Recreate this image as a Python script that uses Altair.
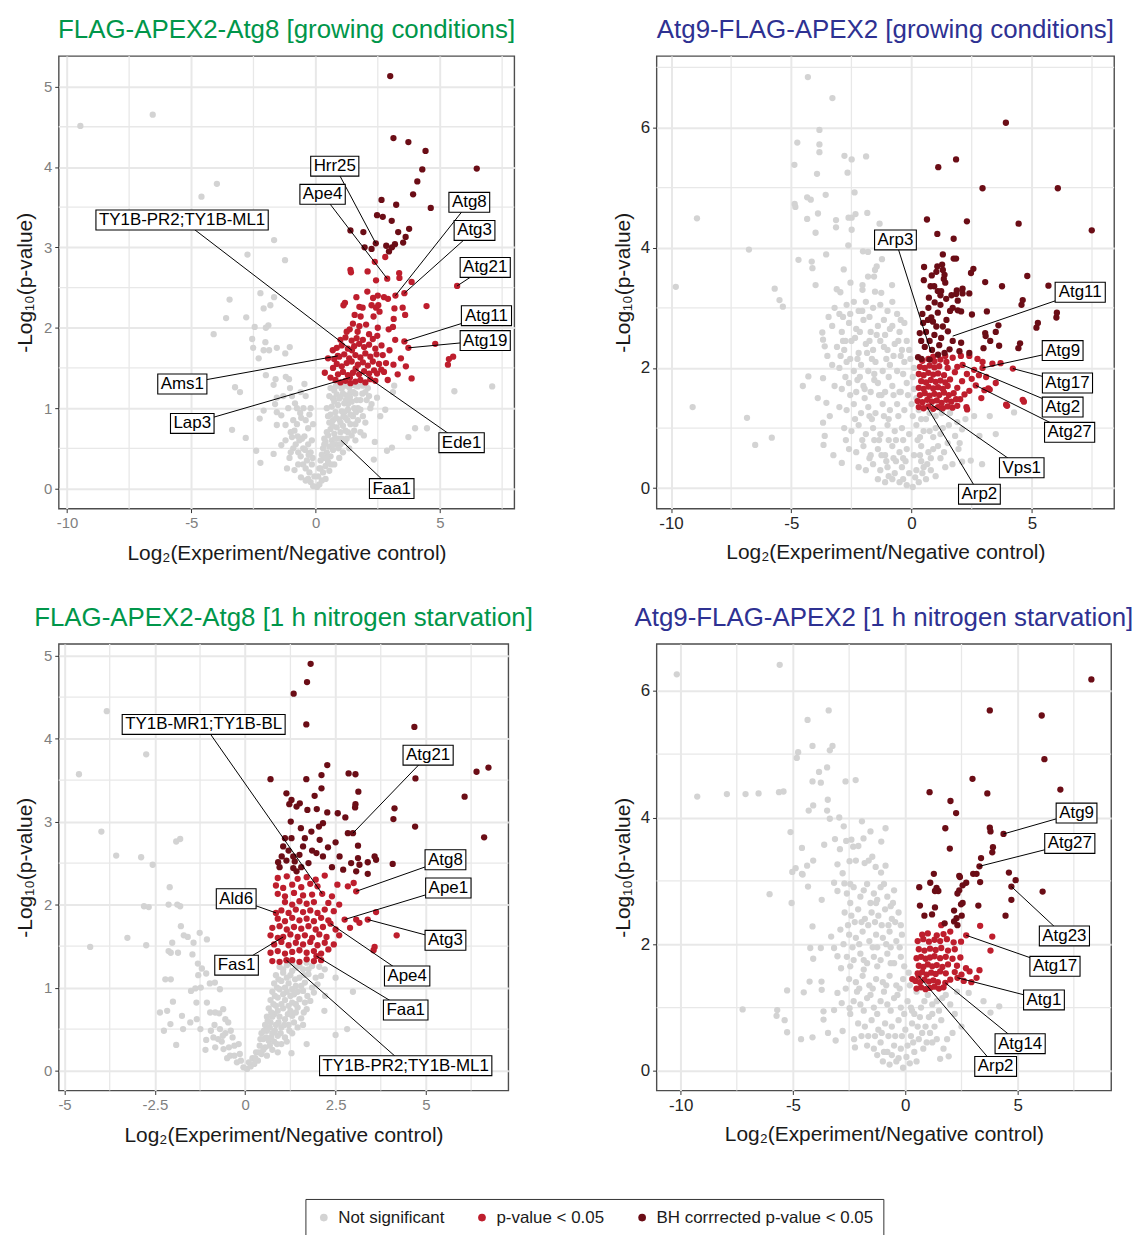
import altair as alt
import pandas as pd

FONT = "Liberation Sans"
CATS = ["Not significant", "p-value < 0.05", "BH corrrected p-value < 0.05"]
COLORS = ["#D3D3D3", "#BE1E2D", "#6B0D16"]
GRID = "#E8E8E8"
XTITLE = "Log\u2082(Experiment/Negative control)"
YTITLE = "-Log\u2081\u2080(p-value)"
GREEN = "#00964A"
BLUE = "#2E3192"

# ---------------- Panel 1: FLAG-APEX2-Atg8 [growing conditions] ----------------
TL_GREY = [(-9.46,4.51),(-6.55,4.65),(-3.97,3.79),(-4.59,3.63),(-2.74,2.91),(-1.23,2.84),(-1.67,3.09),(-2.22,2.43),
 (-1.67,2.38),(-3.46,2.35),(-3.60,2.12),(-2.79,2.13),(-2.09,2.24),(-1.82,2.28),(-4.10,1.92),(-2.45,2.01),(-2.00,2.00),
 (-1.90,2.03),(-2.55,1.86),(-2.02,1.82),(-2.51,1.75),(-2.09,1.72),(-1.87,1.72),(-1.56,1.75),(-1.04,1.76),(-1.22,1.68),
 (-2.29,1.62),(-2.00,1.41),(-1.61,1.36),(-1.69,1.29),(-1.20,1.39),(-1.07,1.36),(-1.03,1.25),(-1.56,1.13),(-1.63,1.05),
 (-2.25,0.87),(-2.09,0.97),(-1.56,0.95),(-1.38,0.91),(-1.21,0.79),(-1.56,0.79),(-2.81,0.63),(-3.36,0.73),(-3.24,1.26),
 (-3.04,1.20),(-2.39,0.47),(-2.22,0.32),(-1.69,0.43),(-1.38,0.54),(-1.05,0.38),(-0.85,0.23),(-0.59,0.14),(-0.40,0.10),
 (-1.21,0.60),(-0.95,0.64),(-0.75,0.80),(-0.62,0.94),(-0.49,1.00),(-0.83,1.06),
 (2.47,1.13),(2.80,0.98),(3.11,1.20),(3.16,1.28),(2.34,0.36),(2.87,0.47),(3.07,0.51),(2.38,0.58),(1.94,0.66),(2.00,0.82),
 (5.58,1.21),(7.10,1.27),(4.00,0.75),(4.48,0.75),(3.73,0.64),(2.60,0.90),(2.25,1.05),
 (-0.10,0.03),(-0.20,0.08),(-0.30,0.12),(-0.25,0.20),(-0.40,0.25),(-0.50,0.30),(-0.35,0.35),(-0.60,0.40),(-0.70,0.45),
 (-0.50,0.50),(-0.80,0.55),(-0.65,0.60),(-0.90,0.50),(-1.00,0.70),(-0.45,0.65),(-0.30,0.55),(-0.20,0.45),(-0.15,0.30),
 (-0.70,0.30),(-0.90,0.85),(-1.10,1.00),(-0.40,0.85),(-0.30,0.75),(-1.30,1.15),(-0.60,1.20),(-0.40,1.15),(-0.20,1.00),
 (-0.10,0.80),(-0.15,0.60),(-1.00,0.45),(-1.15,0.25),
 (0.05,0.02),(0.15,0.05),(0.25,0.10),(0.10,0.15),(0.30,0.20),(0.20,0.25),(0.40,0.28),(0.50,0.33),(0.35,0.38),(0.60,0.40),
 (0.45,0.45),(0.70,0.48),(0.55,0.52),(0.80,0.55),(0.40,0.58),(0.65,0.60),(0.90,0.62),(0.50,0.66),(0.75,0.68),(1.00,0.70),
 (1.20,0.72),(0.60,0.74),(0.85,0.76),(1.10,0.78),(1.40,0.80),(0.55,0.82),(0.70,0.85),(0.95,0.86),(1.20,0.88),(1.50,0.90),
 (0.60,0.92),(0.80,0.95),(1.05,0.96),(1.30,0.98),(1.70,1.00),(0.65,1.02),(0.90,1.04),(1.15,1.06),(1.45,1.08),(1.80,1.10),
 (0.70,1.12),(1.00,1.14),(1.25,1.16),(1.60,1.18),(2.00,1.20),(0.75,1.22),(1.05,1.24),(1.35,1.26),(1.70,1.27),(0.90,1.28),
 (1.50,1.29),(2.10,1.25),(0.30,0.50),(0.20,0.35),(1.60,0.60),(1.35,0.50),(1.10,0.45),(0.95,0.38),(0.75,0.30),(0.55,0.22),
 (0.40,0.12),(1.80,0.70),(1.60,0.80),(1.90,0.90),(2.20,1.00),(0.45,0.70),(0.35,0.62),(0.50,0.90),(0.45,1.00),(0.55,1.15),
 (0.60,1.25),(1.00,0.55),(1.25,0.62),(0.85,1.17),(1.15,0.95),(1.40,1.20),(1.90,1.28),(1.30,1.05),(1.55,1.00),(2.05,1.10),
 (0.15,0.25),(0.25,0.42),(0.35,0.55),(0.45,0.38),(0.62,0.30),(0.68,0.55),(0.78,0.62),(0.92,0.50),(1.05,0.62),(1.18,0.58),
 (1.30,0.70),(1.45,0.66),(1.55,0.72),(1.70,0.85),(0.68,0.78),(0.82,0.88),(1.00,0.82),(1.12,0.90),(1.28,0.85),(1.40,0.92),
 (1.62,0.95),(1.80,0.98),(0.75,1.08),(0.95,1.12),(1.10,1.18),(1.22,1.10),(1.38,1.14),(1.52,1.20),(1.65,1.10),(1.88,1.18),
 (2.15,1.15),(0.82,1.28),(1.18,1.28),(1.62,1.28),(2.00,1.30),(-0.05,0.15),(-0.12,0.38),(-0.28,0.42),(-0.42,0.48),
 (-0.55,0.62),(-0.72,0.65),(-0.85,0.72),(-0.58,0.88),(-0.75,1.00),(-0.25,0.92),(-0.95,1.15),(-0.45,1.30)]
TL_RED = [(2.80,2.88),(2.38,2.82),(1.40,2.72),(1.42,2.69),(2.09,2.70),(3.36,2.68),(2.88,2.61),(2.43,2.59),(3.37,2.62),
 (3.86,2.57),(5.69,2.52),(2.08,2.45),(3.21,2.40),(3.57,2.43),(1.64,2.38),(2.31,2.37),(2.50,2.40),(2.75,2.38),(1.18,2.31),
 (1.12,2.28),(1.76,2.26),(1.89,2.25),(2.43,2.25),(2.52,2.28),(2.91,2.36),(3.17,2.24),(3.50,2.25),(1.57,2.16),(1.81,2.14),
 (2.33,2.14),(2.57,2.20),(3.14,2.11),(3.60,2.16),(4.46,2.27),(1.76,2.02),(2.03,2.04),(1.37,1.98),(2.50,2.00),(2.94,1.98),
 (3.11,2.01),(1.69,1.95),(2.15,1.92),(2.48,1.90),(3.20,1.85),(2.97,1.72),(3.43,1.62),(3.13,1.54),(2.83,1.56),(2.64,1.48),
 (2.47,1.43),(3.63,1.52),(0.69,1.72),(0.75,1.61),(3.57,1.83),(3.73,1.75),(4.81,1.80),(5.53,1.64),(5.36,1.61),(5.32,1.54),
 (3.86,1.37),(0.37,1.44),(0.89,1.65),(1.38,1.38),(1.61,1.49),(1.46,1.72),
 (0.80,1.35),(1.00,1.32),(1.20,1.34),(1.40,1.31),(1.60,1.33),(1.80,1.35),(2.00,1.32),(2.20,1.36),(2.40,1.34),
 (0.90,1.42),(1.10,1.45),(1.30,1.41),(1.50,1.44),(1.75,1.42),(1.95,1.46),(2.15,1.43),(2.35,1.47),(0.70,1.50),
 (0.85,1.55),(1.05,1.52),(1.25,1.56),(1.45,1.58),(1.70,1.54),(1.90,1.57),(2.10,1.53),(2.30,1.58),(2.55,1.55),
 (0.95,1.64),(1.15,1.67),(1.35,1.62),(1.60,1.66),(1.80,1.63),(2.00,1.68),(2.20,1.64),(2.45,1.67),
 (0.85,1.75),(1.05,1.78),(1.30,1.74),(1.55,1.77),(1.75,1.80),(1.95,1.76),(2.15,1.79),(2.40,1.74),(2.65,1.78),
 (1.00,1.85),(1.20,1.88),(1.45,1.84),(1.65,1.87),(1.90,1.85),(2.30,1.86),(2.70,1.66),(2.75,1.45),(0.60,1.38),
 (0.50,1.62),(2.90,1.35),(3.30,1.42),(1.25,1.95),(1.50,2.05),(2.25,2.28)]
TL_DARK = [(3.00,5.13),(3.13,4.36),(3.73,4.31),(4.42,4.20),(4.29,3.97),(6.48,3.98),(4.09,3.82),(3.92,3.66),(2.65,3.59),
 (3.24,3.53),(4.63,3.49),(2.47,3.40),(2.70,3.38),(3.06,3.33),(1.40,3.21),(1.92,3.19),(3.32,3.19),(3.76,3.23),(3.62,3.13),
 (2.42,3.05),(2.84,3.02),(3.19,3.04),(3.52,3.06),(1.97,3.00),(2.25,2.98),(2.95,2.95),(3.07,3.00)]
TL_LABELS = [("Hrr25", 0.77, 4.01, 2.42, 3.05), ("Ape4", 0.28, 3.66, 2.88, 2.61),
 ("TY1B-PR2;TY1B-ML1", -5.37, 3.34, 1.46, 1.72), ("Atg8", 6.18, 3.56, 3.21, 2.40),
 ("Atg3", 6.39, 3.21, 3.57, 2.43), ("Atg21", 6.82, 2.75, 5.69, 2.52), ("Atg11", 6.87, 2.15, 3.57, 1.83),
 ("Atg19", 6.82, 1.84, 3.73, 1.75), ("Ams1", -5.36, 1.30, 0.89, 1.65), ("Lap3", -4.96, 0.81, 1.38, 1.38),
 ("Ede1", 5.87, 0.57, 1.61, 1.49), ("Faa1", 3.06, 0.00, 1.02, 0.60)]

# ---------------- Panel 2: Atg9-FLAG-APEX2 [growing conditions] ----------------
TR_GREY = [(-4.31,6.84),(-3.29,6.49),(-3.83,5.96),(-4.75,5.75),(-3.83,5.72),(-3.83,5.59),(-2.79,5.53),(-2.49,5.47),
 (-1.89,5.52),(-4.87,5.38),(-2.66,5.25),(-3.93,5.23),(-2.37,4.92),(-3.57,4.88),(-4.34,4.84),(-4.19,4.80),(-4.86,4.73),
 (-4.83,4.68),(-3.89,4.57),(-4.34,4.48),(-3.14,4.46),(-3.14,4.34),(-2.62,4.50),(-2.49,4.50),(-2.33,4.56),(-1.84,4.58),
 (-3.99,4.25),(-2.49,4.30),(-1.33,4.40),(-8.92,4.49),(-6.76,3.97),(-2.63,4.04),(-3.55,3.89),(-4.70,3.80),(-4.15,3.77),
 (-4.12,3.66),(-2.82,3.64),(-2.02,3.94),(-1.81,3.93),(-1.23,3.81),(-1.52,3.63),(-1.45,3.69),(-1.81,3.52),(-1.56,3.52),
 (-2.54,3.42),(-0.81,3.38),(-3.99,3.38),(-2.04,3.38),(-2.04,3.30),(-3.11,3.31),(-2.96,3.26),(-1.26,3.25),(-1.52,3.27),
 (-9.80,3.35),(-5.69,3.32),(-5.49,3.13),(-5.35,3.02),(-9.10,1.35),(-6.84,1.17),(-6.50,0.72),(-5.81,0.84),
 (-3.71,2.59),(-3.68,2.47),(-3.61,2.36),(-4.29,1.86),(-4.52,1.70),(-3.68,1.83),(-3.54,1.42),(-3.68,1.09),(-3.61,0.87),
 (-3.66,0.72),(-3.50,2.20),(-3.90,1.50),(-3.40,1.20),(-3.25,0.55),(-2.90,0.42),(-2.73,0.80),
 (-3.20,3.00),(-3.00,2.90),(-2.70,3.05),(-2.40,3.10),(-2.20,2.95),(-1.90,3.10),(-1.60,3.00),(-1.30,3.05),(-1.00,2.95),
 (-0.80,3.10),(-0.60,2.90),(-3.30,2.70),(-2.90,2.60),(-2.60,2.75),(-2.30,2.65),(-2.00,2.80),(-1.70,2.60),(-1.40,2.70),
 (-1.10,2.55),(-0.80,2.70),(-0.50,2.60),(-0.30,2.75),(-3.10,2.35),(-2.80,2.30),(-2.50,2.45),(-2.20,2.25),(-1.90,2.40),
 (-1.60,2.30),(-1.30,2.45),(-1.00,2.30),(-0.70,2.40),(-0.40,2.30),(-0.20,2.45),(-3.30,2.05),(-3.00,2.00),(-2.70,2.10),
 (-2.40,1.95),(-2.10,2.05),(-1.80,1.95),(-1.50,2.10),(-1.20,1.95),(-0.90,2.05),(-0.60,1.95),(-0.30,2.10),(0.10,2.00),
 (-3.20,1.70),(-2.90,1.65),(-2.60,1.75),(-2.30,1.60),(-2.00,1.70),(-1.70,1.60),(-1.40,1.75),(-1.10,1.60),(-0.80,1.70),
 (-0.50,1.60),(-0.20,1.75),(0.10,1.65),(-3.00,1.35),(-2.70,1.30),(-2.40,1.40),(-2.10,1.25),(-1.80,1.35),(-1.50,1.25),
 (-1.20,1.40),(-0.90,1.30),(-0.60,1.40),(-0.30,1.30),(0.00,1.40),(0.30,1.30),(-2.80,1.00),(-2.50,0.95),(-2.20,1.05),
 (-1.90,0.90),(-1.60,1.00),(-1.30,0.90),(-1.00,1.05),(-0.70,0.95),(-0.40,1.00),(-0.10,0.90),(0.20,1.05),(0.50,0.95),
 (-2.60,0.65),(-2.30,0.60),(-2.00,0.70),(-1.70,0.55),(-1.40,0.65),(-1.10,0.55),(-0.80,0.70),(-0.50,0.60),(-0.20,0.65),
 (0.10,0.55),(0.40,0.70),(0.70,0.60),(-2.20,0.35),(-1.90,0.30),(-1.60,0.40),(-1.30,0.30),(-1.00,0.35),(-0.70,0.25),
 (-0.40,0.35),(-0.10,0.25),(0.20,0.30),(0.50,0.35),(0.80,0.30),(-1.40,0.15),(-1.10,0.10),(-0.80,0.15),(-0.50,0.10),
 (-0.20,0.05),(0.05,0.02),(0.30,0.10),(0.60,0.15),(1.00,0.20),
 (-3.45,2.85),(-2.85,2.45),(-2.55,2.15),(-2.25,1.80),(-1.95,1.50),(-1.65,1.15),(-1.35,0.80),(-1.05,0.45),(-0.75,0.50),
 (-2.15,2.60),(-1.85,2.25),(-1.55,1.90),(-1.25,1.55),(-0.95,1.15),(-0.65,0.80),(-0.35,0.50),(-0.45,1.60),(-0.75,2.20),
 (-2.85,2.85),(-2.55,2.90),(-2.05,2.95),(-1.75,2.85),(-1.15,2.80),(-0.90,2.65),(-0.45,2.80),(-2.75,2.45),(-2.35,2.50),
 (-1.75,2.45),(-1.45,2.55),(-1.15,2.35),(-0.55,2.45),(-0.10,2.30),(-2.95,2.20),(-2.25,2.15),(-1.65,2.15),(-1.05,2.15),
 (-0.45,2.20),(-0.05,2.15),(-2.75,1.85),(-2.15,1.85),(-1.55,1.80),(-0.95,1.85),(-0.35,1.90),(0.05,1.85),(-2.55,1.55),
 (-1.95,1.65),(-1.35,1.55),(-0.75,1.55),(-0.15,1.55),(0.20,1.50),(-2.35,1.15),(-1.75,1.20),(-1.15,1.20),(-0.55,1.20),
 (0.05,1.20),(0.40,1.15),(-2.05,0.80),(-1.55,0.80),(-0.95,0.80),(-0.35,0.80),(0.25,0.80),(0.90,0.65),(-1.75,0.50),
 (-1.25,0.55),(-0.65,0.45),(-0.25,0.45),(0.35,0.55),(0.65,0.40),(-0.95,0.20),(-0.35,0.15),(0.15,0.18),(0.45,0.25),
 (0.80,0.50),(1.20,0.90),(1.00,1.00),(1.35,0.60),(1.55,1.05),(0.75,1.25),(1.25,1.25),(1.90,1.10),(2.00,0.75),
 (4.26,1.26),(3.25,1.20),(2.82,0.87),(2.93,0.40),(2.46,0.46),(2.10,0.44),(1.95,0.65),(2.24,1.15),(2.10,0.98),(1.81,0.87),
 (1.00,1.20),(1.30,1.00),(1.50,0.75),(1.20,0.50),(0.90,0.85),(1.60,1.25),(0.60,1.15),(1.10,0.70),(1.70,0.40),(3.50,0.90),
 (2.60,1.20),(0.40,0.45),(0.75,0.95),(1.40,0.35),(0.35,0.85)]
TR_RED = [(2.40,2.20),(2.74,2.15),(2.95,2.10),(3.36,2.07),(3.70,2.08),(4.21,1.99),(2.12,2.05),(2.95,2.00),(1.71,2.17),
 (2.05,2.20),(2.67,1.71),(3.19,1.66),(4.62,1.47),(3.93,1.39),(2.28,1.35),(3.25,1.64),(3.03,1.63),(3.97,1.37),(4.67,1.44),
 (2.31,1.31),(2.02,1.48),
 (0.30,1.35),(0.50,1.33),(0.70,1.36),(0.90,1.32),(1.10,1.35),(1.30,1.33),(1.50,1.36),(1.70,1.34),(1.90,1.37),
 (0.25,1.45),(0.45,1.43),(0.65,1.47),(0.85,1.44),(1.05,1.46),(1.25,1.42),(1.45,1.47),(1.65,1.44),(1.85,1.48),
 (0.35,1.55),(0.55,1.58),(0.75,1.54),(0.95,1.57),(1.15,1.55),(1.35,1.59),(1.55,1.55),(1.75,1.58),(2.20,1.56),
 (0.30,1.67),(0.50,1.65),(0.70,1.69),(0.90,1.66),(1.10,1.68),(1.30,1.65),(1.50,1.70),(1.90,1.67),(2.40,1.62),
 (0.40,1.78),(0.60,1.76),(0.80,1.80),(1.00,1.77),(1.20,1.79),(1.40,1.76),(1.60,1.81),(2.10,1.78),(2.50,1.82),
 (0.30,1.90),(0.50,1.88),(0.70,1.92),(0.90,1.89),(1.10,1.91),(1.35,1.88),(1.80,1.93),(2.30,1.90),(2.80,1.88),
 (0.35,2.02),(0.55,2.00),(0.75,2.04),(0.95,2.01),(1.15,2.03),(1.50,2.00),(1.90,2.02),(2.60,1.97),(3.10,1.85),
 (0.45,2.12),(0.70,2.15),(0.95,2.11),(1.20,2.14),(1.45,2.10),(3.50,1.75),(2.90,1.50),(1.40,2.20),(0.90,2.19)]
TR_DARK = [(3.92,6.08),(1.85,5.47),(1.11,5.34),(2.95,4.99),(6.08,4.99),(0.64,4.47),(2.30,4.44),(4.45,4.40),(7.49,4.29),
 (1.07,4.23),(1.75,4.15),(1.30,3.89),(1.75,3.82),(1.85,3.82),(0.52,3.68),(1.07,3.69),(1.27,3.72),(1.30,3.63),(2.57,3.65),
 (2.47,3.58),(0.84,3.54),(0.51,3.46),(1.34,3.48),(1.40,3.42),(3.06,3.43),(4.81,3.53),(0.79,3.36),(0.94,3.36),(1.88,3.29),
 (2.12,3.32),(3.76,3.36),(5.69,3.37),(1.66,3.21),(1.20,3.21),(0.72,3.17),(1.03,3.60),(1.37,3.55),
 (1.09,3.28),(1.23,3.28),(1.85,3.23),(2.12,3.24),(2.40,3.24),(1.44,3.15),(0.96,3.09),(1.92,3.12),(1.71,3.00),(1.92,2.96),
 (2.06,2.94),(3.13,2.94),(4.57,3.05),(6.02,2.84),(5.19,2.67),(3.61,2.71),(3.50,2.60),(3.06,2.58),(3.27,2.45),(2.99,2.33),
 (4.44,2.33),(2.51,2.89),(1.09,2.92),(0.82,2.84),(0.48,2.75),(0.34,2.58),(0.68,2.80),(0.89,2.77),(1.03,2.69),(1.30,2.69),
 (1.51,2.61),(1.23,2.50),(1.71,2.45),(1.58,2.31),(1.37,2.25),(2.06,2.42),(1.99,2.28),(2.40,2.25),(0.27,2.18),(0.41,2.15),
 (0.75,2.14),(4.62,3.13),(6.04,2.92),(5.25,2.75),(4.51,2.41),(3.64,2.37),(3.08,2.53),(0.60,2.60),(0.75,2.45),(0.95,2.55),
 (1.15,2.38),(0.55,2.35),(0.85,2.30),(1.10,2.22),(0.40,2.45),(1.45,2.80),(1.60,2.95),(0.70,3.00),(1.20,3.05),(0.45,2.90)]
TR_LABELS = [("Arp3", -0.67, 4.13, 0.81, 2.26), ("Atg11", 7.01, 3.26, 1.71, 2.53), ("Atg9", 6.28, 2.29, 2.95, 2.00),
 ("Atg17", 6.48, 1.75, 4.21, 1.99), ("Atg2", 6.28, 1.35, 2.12, 2.05), ("Atg27", 6.57, 0.93, 2.67, 1.71),
 ("Vps1", 4.58, 0.34, 0.79, 1.40), ("Arp2", 2.82, -0.10, 0.64, 1.35)]

# ---------------- Panel 3: FLAG-APEX2-Atg8 [1 h nitrogen starvation] ----------------
BL_GREY = [(-4.60,3.57),(-3.83,4.33),(-2.74,3.81),(-3.98,2.88),(-1.91,2.76),(-1.80,2.79),(-3.57,2.59),(-2.88,2.57),
 (-2.56,2.48),(-4.29,1.49),(-3.26,1.60),(-2.74,1.51),(-2.80,1.98),(-2.67,1.97),(-2.09,2.21),(-2.12,2.00),(-1.88,2.00),
 (-1.80,1.98),(-1.78,1.74),(-1.70,1.63),(-1.59,1.61),(-1.43,1.54),(-1.06,1.58),(-1.26,1.66),(-2.02,1.54),(-2.12,1.44),
 (-2.06,1.42),(-1.86,1.42),(-1.46,1.40),(-1.31,1.29),(-1.20,1.23),(-1.08,1.17),(-1.30,1.15),(-0.98,1.05),(-0.84,1.06),
 (-0.70,0.98),(-2.21,1.10),(-2.06,1.10),(-1.50,0.96),(-1.38,0.99),(-1.23,1.00),(-1.06,0.82),(-1.35,0.82),(-0.97,0.70),
 (-0.83,0.70),(-0.72,0.69),(-0.61,0.74),(-2.36,0.70),(-2.16,0.72),(-2.00,0.83),(-2.25,0.48),(-2.07,0.56),(-1.75,0.66),
 (-1.72,0.50),(-1.91,0.31),(-1.52,0.58),(-1.34,0.62),(-1.24,0.50),(-1.08,0.37),(-0.88,0.40),(-0.70,0.50),(-0.47,0.58),
 (-0.83,0.28),(-0.60,0.26),(-0.42,0.18),(-0.23,0.10),(-0.05,0.04),(-0.35,0.40),(-0.55,0.45),(-0.30,0.30),(-0.15,0.20),
 (-0.65,0.35),(-0.50,0.15),(-0.85,0.55),(-1.10,0.25),
 (2.98,0.95),(2.82,0.50),(2.50,0.43),(1.28,0.21),(1.70,0.32),(2.21,0.90),(2.19,0.72),(2.50,1.12),
 (0.05,0.02),(0.15,0.05),(0.25,0.08),(0.20,0.15),(0.35,0.12),(0.30,0.22),(0.45,0.20),(0.60,0.18),(0.40,0.30),(0.55,0.28),
 (0.75,0.25),(0.90,0.22),(0.50,0.38),(0.65,0.36),(0.80,0.35),(1.00,0.32),(0.45,0.45),(0.60,0.48),(0.75,0.45),(0.90,0.42),
 (1.10,0.40),(1.30,0.45),(0.55,0.55),(0.70,0.58),(0.85,0.55),(1.00,0.52),(1.20,0.55),(1.45,0.52),(0.60,0.65),(0.80,0.68),
 (0.95,0.65),(1.10,0.62),(1.30,0.66),(1.55,0.63),(0.65,0.75),(0.85,0.78),(1.05,0.75),(1.25,0.72),(1.45,0.76),(1.70,0.74),
 (0.70,0.85),(0.90,0.88),(1.10,0.85),(1.30,0.82),(1.50,0.86),(1.80,0.84),(0.75,0.95),(0.95,0.98),(1.15,0.95),(1.35,0.92),
 (1.60,0.96),(1.90,0.94),(0.80,1.05),(1.00,1.08),(1.20,1.05),(1.40,1.02),(1.65,1.06),(2.00,1.04),(0.85,1.15),(1.05,1.18),
 (1.25,1.15),(1.50,1.12),(1.75,1.16),(2.10,1.14),(0.95,1.25),(1.15,1.27),(1.40,1.24),(1.60,1.22),(1.85,1.26),(2.20,1.22),
 (1.30,1.30),(1.70,1.30),
 (0.10,0.10),(0.28,0.15),(0.38,0.22),(0.50,0.25),(0.68,0.30),(0.42,0.38),(0.58,0.40),(0.72,0.40),(0.88,0.32),(1.15,0.35),
 (0.52,0.48),(0.68,0.52),(0.82,0.48),(0.98,0.45),(1.22,0.48),(0.62,0.60),(0.75,0.65),(0.92,0.58),(1.08,0.55),(1.35,0.58),
 (1.60,0.55),(0.72,0.70),(0.90,0.72),(1.18,0.68),(1.40,0.70),(1.62,0.70),(0.78,0.80),(1.00,0.80),(1.20,0.78),(1.40,0.80),
 (1.65,0.82),(0.82,0.90),(1.05,0.92),(1.25,0.90),(1.45,0.95),(1.72,0.90),(0.88,1.00),(1.10,1.00),(1.30,0.98),(1.55,1.02),
 (1.85,1.00),(0.92,1.10),(1.15,1.12),(1.38,1.10),(1.62,1.15),(1.95,1.12),(1.05,1.22),(1.30,1.20),(1.50,1.26),(1.75,1.22),
 (2.05,1.25),(-0.12,0.12),(-0.30,0.18),(-0.45,0.28),(-0.62,0.42),(-0.75,0.38),(-0.95,0.48),(-0.55,0.62),(-0.40,0.48),
 (-0.18,0.32)]
BL_RED = [(3.07,2.16),(2.75,1.82),(3.39,1.82),(3.62,1.91),(4.19,1.63),(3.58,1.49),(3.55,1.45),(3.07,1.82),(3.16,1.78),
 (2.84,2.22),(3.00,2.26),(0.85,1.90),(1.05,1.61),(2.13,2.13),(2.36,1.77),(1.97,1.38),(1.14,1.33),
 (0.75,1.32),(0.95,1.31),(1.30,1.33),(1.50,1.31),(1.70,1.34),(1.90,1.32),(2.10,1.33),
 (0.70,1.42),(0.90,1.44),(1.10,1.41),(1.30,1.43),(1.50,1.45),(1.70,1.42),(1.90,1.44),(2.10,1.41),(2.30,1.46),
 (0.80,1.52),(1.00,1.55),(1.20,1.51),(1.40,1.54),(1.60,1.52),(1.80,1.55),(2.00,1.51),(2.20,1.54),(2.45,1.52),
 (0.70,1.63),(0.90,1.60),(1.25,1.64),(1.45,1.61),(1.65,1.63),(1.85,1.60),(2.05,1.64),(2.25,1.61),(2.60,1.63),
 (0.75,1.72),(0.95,1.74),(1.15,1.70),(1.35,1.73),(1.55,1.71),(1.75,1.74),(1.95,1.70),(2.15,1.73),(2.50,1.70),(2.90,1.72),
 (0.90,1.83),(1.10,1.80),(1.30,1.84),(1.50,1.81),(1.70,1.83),(1.90,1.80),(2.10,1.84),(2.30,1.81),
 (1.00,1.93),(1.20,1.90),(1.40,1.94),(1.60,1.91),(1.80,1.93),(2.00,1.90),(2.20,1.94),(2.45,1.92),
 (1.10,2.03),(1.30,2.00),(1.50,2.04),(1.70,2.01),(1.90,2.03),(2.30,2.02),(2.60,2.00),
 (0.90,2.13),(1.10,2.10),(1.35,2.14),(1.60,2.11),(1.85,2.12),(2.40,2.10),
 (0.85,2.23),(1.05,2.20),(1.30,2.24),(1.55,2.21),(1.80,2.25),(2.00,2.22),(2.55,2.24),
 (0.90,2.32),(1.15,2.34),(1.45,2.31),(1.70,2.33),(1.95,2.30),(2.20,2.35)]
BL_DARK = [(1.81,4.90),(1.71,4.68),(1.34,4.54),(1.69,4.17),(4.68,4.14),(0.70,3.51),(1.69,3.51),(2.27,3.68),(2.11,3.56),
 (2.86,3.58),(3.05,3.57),(6.40,3.60),(6.73,3.65),(4.71,3.52),(1.14,3.34),(1.28,3.26),(1.22,3.21),(2.11,3.40),(1.92,3.31),
 (3.13,3.36),(3.05,3.21),(3.04,3.17),(1.51,3.22),(1.72,3.14),(1.98,3.15),(2.27,3.11),(2.56,3.10),(2.77,3.05),(4.13,3.16),
 (4.10,3.03),(6.07,3.30),(6.61,2.81),(4.70,2.94),(1.26,3.00),(1.54,2.92),(1.83,2.88),(2.04,2.94),(2.98,2.86),(1.42,3.18),
 (1.10,2.80),(1.28,2.80),(1.05,2.70),(1.65,2.80),(1.60,2.70),(2.06,2.78),(2.29,2.69),(1.97,2.62),(2.15,2.58),(2.61,2.58),
 (3.12,2.56),(2.93,2.50),(3.16,2.48),(3.39,2.51),(3.58,2.58),(3.62,2.54),(4.08,2.49),(0.91,2.51),(1.14,2.53),(1.37,2.52),
 (1.33,2.44),(1.42,2.40),(1.01,2.58),(1.33,2.58),(2.71,2.42),(3.07,2.40),(3.39,2.37),(2.84,2.86),(3.12,2.71),(2.15,2.98),
 (1.20,2.65),(1.50,2.60),(1.75,2.50),(2.40,2.45),(0.95,2.45),(1.55,2.45),(2.50,2.75),(1.85,2.65)]
BL_LABELS = [("TY1B-MR1;TY1B-BL", -1.15, 4.17, 2.13, 2.13), ("Atg21", 5.06, 3.80, 2.98, 2.86),
 ("Atg8", 5.54, 2.54, 3.07, 2.16), ("Ape1", 5.62, 2.20, 2.75, 1.82), ("Atg3", 5.54, 1.57, 3.39, 1.82),
 ("Ape4", 4.48, 1.14, 2.36, 1.77), ("Faa1", 4.44, 0.73, 1.97, 1.38),
 ("TY1B-PR2;TY1B-ML1", 4.44, 0.06, 1.14, 1.33), ("Ald6", -0.25, 2.07, 0.85, 1.90), ("Fas1", -0.24, 1.27, 1.05, 1.61)]

# ---------------- Panel 4: Atg9-FLAG-APEX2 [1 h nitrogen starvation] ----------------
BR_GREY = [(-10.17,6.26),(-5.59,6.41),(-3.41,5.69),(-4.35,5.54),(-4.13,5.13),(-3.24,5.13),(-4.77,5.03),(-4.83,4.94),
 (-3.36,5.06),(-3.48,4.79),(-3.84,4.72),(-3.76,4.55),(-4.13,4.57),(-2.66,4.57),(-2.21,4.59),(-9.26,4.33),(-7.94,4.37),
 (-7.11,4.37),(-6.53,4.38),(-5.62,4.40),(-5.42,4.41),(-3.45,4.28),(-3.48,4.11),(-4.10,4.19),(-4.30,4.11),(-3.36,3.98),
 (-2.94,4.00),(-2.74,3.86),(-1.93,3.94),(-1.55,3.78),(-0.88,3.83),(-5.11,3.77),(-4.60,3.52),(-3.61,3.57),(-3.13,3.66),
 (-2.91,3.50),(-2.63,3.63),(-2.40,3.65),(-2.32,3.54),(-2.09,3.55),(-1.86,3.67),(-1.07,3.62),(-4.10,3.32),(-4.37,3.24),
 (-4.88,3.20),(-4.60,3.11),(-3.02,3.26),(-2.79,3.12),(-2.48,3.31),(-2.20,3.32),(-1.81,3.28),(-1.63,3.32),(-1.47,3.38),
 (-1.32,3.22),(-0.88,3.24),(-1.08,3.13),
 (-6.04,2.79),(-5.06,2.65),(-4.13,2.28),(-4.23,1.94),(-3.76,1.94),(-4.10,1.77),(-4.26,1.41),(-3.73,1.41),(-5.26,1.27),
 (-4.52,1.24),(-3.72,1.28),(-7.24,0.97),(-5.70,0.96),(-5.73,0.87),(-5.37,0.80),(-5.26,0.61),(-4.64,0.50),(-4.13,0.53),
 (-3.64,0.94),(-3.17,0.96),(-3.64,0.81),(-3.44,0.60),(-3.10,0.48),(-2.79,0.63),(-2.28,0.50),(-2.24,0.37),(-5.03,3.14),
 (-4.57,3.10),(-4.33,2.91),(-3.17,2.97),(-3.02,2.84),(-2.71,2.96),(-3.72,2.70),(-3.30,2.12),(-3.17,1.94),(-2.89,2.23),
 (-3.02,1.81),(-2.86,1.62),(-3.02,1.23),(-2.83,1.07),(-2.48,0.99),
 (-2.60,2.80),(-2.30,2.90),(-2.00,2.75),(-1.70,2.95),(-1.40,2.80),(-1.10,2.90),(-0.80,2.75),(-0.50,2.85),
 (-2.70,2.50),(-2.40,2.45),(-2.10,2.55),(-1.80,2.40),(-1.50,2.50),(-1.20,2.45),(-0.90,2.55),(-0.60,2.40),(-0.30,2.50),
 (-2.50,2.15),(-2.20,2.10),(-1.90,2.20),(-1.60,2.05),(-1.30,2.15),(-1.00,2.10),(-0.70,2.20),(-0.40,2.05),(-0.15,2.15),
 (-2.60,1.80),(-2.30,1.75),(-2.00,1.85),(-1.70,1.70),(-1.40,1.80),(-1.10,1.75),(-0.80,1.85),(-0.50,1.70),(-0.20,1.80),
 (-2.50,1.45),(-2.20,1.40),(-1.90,1.50),(-1.60,1.35),(-1.30,1.45),(-1.00,1.40),(-0.70,1.50),(-0.40,1.35),(-0.10,1.45),
 (-2.30,1.10),(-2.00,1.05),(-1.70,1.15),(-1.40,1.00),(-1.10,1.10),(-0.80,1.05),(-0.50,1.15),(-0.20,1.00),(0.10,1.10),
 (-2.10,0.75),(-1.80,0.70),(-1.50,0.80),(-1.20,0.65),(-0.90,0.75),(-0.60,0.70),(-0.30,0.80),(0.00,0.65),(0.30,0.75),
 (-1.70,0.40),(-1.40,0.35),(-1.10,0.45),(-0.80,0.30),(-0.50,0.40),(-0.20,0.35),(0.10,0.40),(0.40,0.30),
 (-1.00,0.15),(-0.70,0.10),(-0.40,0.15),(-0.10,0.05),(0.20,0.12),(0.50,0.15),
 (-2.45,2.65),(-1.95,2.35),(-1.55,2.65),(-1.05,2.30),(-2.35,1.95),(-1.85,1.60),(-1.25,1.95),(-0.65,1.95),(-2.15,1.25),
 (-1.55,1.20),(-0.95,1.25),(-0.35,1.20),(-1.65,0.55),(-1.05,0.60),(-0.45,0.55),(-0.60,0.25),(-1.30,2.65),(-0.55,2.65),
 (-2.45,2.95),(-1.85,2.85),(-1.25,2.70),(-0.95,2.95),(-0.65,2.60),(-2.55,2.30),(-2.25,2.35),(-1.65,2.30),(-1.35,2.35),
 (-0.75,2.30),(-0.45,2.35),(-0.20,2.30),(-2.75,2.00),(-2.05,2.00),(-1.45,1.95),(-0.85,2.00),(-0.25,1.95),(-2.45,1.65),
 (-1.85,1.75),(-1.25,1.65),(-0.65,1.70),(-0.05,1.65),(0.15,1.55),(-2.65,1.30),(-2.05,1.30),(-1.45,1.30),(-0.85,1.35),
 (-0.25,1.30),(0.20,1.35),(-2.45,0.90),(-1.85,0.95),(-1.25,0.90),(-0.65,0.95),(-0.05,0.90),(0.25,1.00),(-1.95,0.55),
 (-1.35,0.55),(-0.75,0.55),(-0.15,0.55),(0.25,0.55),(-1.25,0.25),(-0.95,0.30),(-0.30,0.20),(0.05,0.22),(0.35,0.45),
 (0.55,0.70),(0.75,0.60),(0.95,0.45),(1.05,0.85),(1.30,0.70),(0.85,1.10),(1.20,1.05),(1.50,0.95),(1.65,1.15),(2.00,1.05),
 (0.65,0.85),(0.30,0.95),(1.40,0.50),(1.70,0.35),(2.10,0.60),
 (4.18,1.02),(3.79,0.92),(3.48,1.10),(2.82,1.23),(1.93,0.23),(1.55,0.19),(1.86,0.50),(0.60,0.50),(0.90,0.70),(1.20,0.90),
 (0.70,1.00),(1.00,1.20),(1.40,1.10),(1.60,0.80),(0.80,0.35),(1.20,0.45),(2.20,0.90),(2.50,0.70),(0.50,1.25),(1.80,1.20),
 (2.30,1.25),(1.10,0.60),(0.40,0.90)]
BR_RED = [(3.33,2.29),(3.87,2.12),(3.79,1.90),(2.71,2.14),(2.48,2.04),(2.86,1.57),(3.17,1.47),(2.94,1.40),(3.30,1.59),
 (0.31,1.45),(2.32,1.47),(0.59,1.50),(1.78,1.39),
 (0.50,1.30),(0.70,1.32),(0.90,1.29),(1.10,1.31),(1.30,1.33),(1.50,1.30),(1.70,1.32),
 (0.45,1.42),(0.65,1.40),(0.85,1.44),(1.05,1.41),(1.25,1.43),(1.45,1.40),(2.00,1.44),(2.60,1.42),
 (0.55,1.54),(0.75,1.56),(0.95,1.52),(1.15,1.55),(1.35,1.53),(1.55,1.57),(1.80,1.54),(2.20,1.56),(2.50,1.52),
 (0.60,1.66),(0.80,1.64),(1.00,1.68),(1.20,1.65),(1.40,1.67),(1.65,1.64),(1.90,1.68),(2.30,1.66),(2.70,1.62),
 (0.50,1.78),(0.70,1.80),(0.90,1.77),(1.10,1.79),(1.30,1.81),(1.55,1.78),(1.80,1.80),(2.10,1.77),(2.45,1.79),
 (0.60,1.92),(0.85,1.90),(1.10,1.93),(1.35,1.91),(1.60,1.94),(1.90,1.90),(2.20,1.92),
 (0.55,2.05),(0.80,2.08),(1.05,2.04),(1.30,2.07),(1.55,2.05),(1.85,2.08),(2.15,2.03),
 (0.75,2.15),(1.00,2.17),(1.40,2.14),(1.70,2.16),(2.00,2.20),(1.60,2.30)]
BR_DARK = [(8.28,6.18),(3.76,5.69),(6.07,5.61),(6.19,4.92),(2.99,4.61),(6.90,4.44),(1.08,4.40),(3.65,4.38),(2.01,4.26),
 (2.26,4.07),(1.78,3.83),(3.76,3.84),(3.79,3.78),(4.37,3.74),(1.98,3.51),(3.90,3.53),(3.87,3.45),(3.37,3.36),(3.30,3.23),
 (1.27,3.11),(2.40,3.08),(3.02,3.11),(3.17,3.11),(4.61,3.13),(2.43,3.06),(3.33,2.98),(2.71,2.97),(2.55,2.93),(2.40,2.85),
 (2.32,2.80),(2.55,2.65),(2.48,2.63),(0.62,2.90),(1.11,2.97),(1.39,2.89),(1.47,2.84),(1.32,2.84),(4.91,3.01),(4.72,2.91),
 (6.11,2.83),(4.72,2.70),(3.25,2.61),(0.65,2.61),(1.32,2.58),(2.17,2.53),(0.85,2.45),(1.19,2.47),(2.51,2.45),(2.28,2.41),
 (2.17,2.36),(2.32,2.30),(4.46,2.45),(1.75,2.33)]
BR_LABELS = [("Atg9", 7.62, 4.07, 4.37, 3.74), ("Atg27", 7.32, 3.59, 3.30, 3.23), ("Atg23", 7.08, 2.13, 4.72, 2.91),
 ("Atg17", 6.66, 1.65, 2.71, 2.14), ("Atg1", 6.17, 1.12, 2.32, 1.47), ("Atg14", 5.11, 0.43, 1.78, 1.39),
 ("Arp2", 4.02, 0.07, 0.59, 1.50)]

# axis ticks (major labelled, minor grid only)
TL_XMAJ, TL_XMIN = [-10, -5, 0, 5], [-7.5, -2.5, 2.5, 7.5]
TL_YMAJ, TL_YMIN = [0, 1, 2, 3, 4, 5], [0.5, 1.5, 2.5, 3.5, 4.5]
TR_XMAJ, TR_XMIN = [-10, -5, 0, 5], [-7.5, -2.5, 2.5, 7.5]
TR_YMAJ, TR_YMIN = [0, 2, 4, 6], [1, 3, 5, 7]
BL_XMAJ, BL_XMIN = [-5, -2.5, 0, 2.5, 5], [-3.75, -1.25, 1.25, 3.75, 6.25]
BL_YMAJ, BL_YMIN = [0, 1, 2, 3, 4, 5], [0.5, 1.5, 2.5, 3.5, 4.5]
BR_XMAJ, BR_XMIN = [-10, -5, 0, 5], [-7.5, -2.5, 2.5, 7.5]
BR_YMAJ, BR_YMIN = [0, 2, 4, 6], [1, 3, 5]

# Arial / Liberation Sans advance widths (per 1000 em) for label boxes
AW = {"A": 667, "B": 667, "E": 667, "F": 611, "H": 722, "L": 556, "M": 833, "P": 667, "R": 722, "T": 611,
      "V": 667, "Y": 667, "a": 556, "d": 556, "e": 556, "g": 556, "l": 222, "m": 833, "p": 556, "r": 333,
      "s": 500, "t": 278, "-": 333, ";": 278, " ": 278}
LFS = 17


def box_path(s):
    hw = (sum(AW.get(c, 556) for c in s) / 1000 * LFS + 6) / 2
    hh = 10
    return f"M{-hw:.1f},{-hh}H{hw:.1f}V{hh}H{-hw:.1f}Z"


LEGEND = alt.Legend(title=None, orient="none", legendX=248, legendY=1149, direction="horizontal", columns=3,
                    symbolType="circle", symbolSize=60, symbolStrokeWidth=0, labelFont=FONT, labelFontSize=17,
                    labelColor="#1A1A1A", labelLimit=0, strokeColor="#333333", fillColor="white", padding=10,
                    columnPadding=29, labelOffset=6)


def panel(title, tcolor, grey, red, dark, labels, xdom, ydom, xmaj, xmin, ymaj, ymin, w, h,
          lab_color, lab_size, xtp, ytp):
    rows = ([(x, y, CATS[0]) for x, y in grey] + [(x, y, CATS[1]) for x, y in red]
            + [(x, y, CATS[2]) for x, y in dark])
    pts = pd.DataFrame(rows, columns=["x", "y", "cat"])
    lab = pd.DataFrame(labels, columns=["name", "lx", "ly", "px", "py"])
    lab["path"] = lab["name"].map(box_path)
    xs = alt.Scale(domain=xdom, nice=False, zero=False)
    ys = alt.Scale(domain=ydom, nice=False, zero=False)
    common = dict(grid=True, gridColor=GRID, gridWidth=2, domain=False, tickColor="#333333", tickSize=4,
                  tickWidth=1, labelColor=lab_color, labelFontSize=lab_size, labelFont=FONT,
                  labelExpr="'' + datum.value", labelFlush=False, labelOverlap=False, titleFont=FONT,
                  titleFontSize=21, titleFontWeight="normal", titleColor="#1A1A1A")
    xax = alt.Axis(values=xmaj, title=XTITLE, labelPadding=3, titlePadding=xtp, **common)
    yax = alt.Axis(values=ymaj, title=YTITLE, labelPadding=3, titlePadding=ytp, **common)

    def X(f):
        return alt.X(f, type="quantitative", scale=xs, axis=xax)

    def Y(f):
        return alt.Y(f, type="quantitative", scale=ys, axis=yax)

    vmin = alt.Chart(pd.DataFrame({"v": xmin})).mark_rule(color=GRID, strokeWidth=1.3).encode(x=X("v"))
    hmin = alt.Chart(pd.DataFrame({"v": ymin})).mark_rule(color=GRID, strokeWidth=1.3).encode(y=Y("v"))
    dots = alt.Chart(pts).mark_circle(size=40, opacity=1).encode(
        x=X("x"), y=Y("y"),
        color=alt.Color("cat:N", scale=alt.Scale(domain=CATS, range=COLORS), legend=LEGEND))
    lines = alt.Chart(lab).mark_rule(color="black", strokeWidth=1).encode(
        x=X("px"), y=Y("py"), x2=alt.X2("lx"), y2=alt.Y2("ly"))
    boxes = alt.Chart(lab).mark_point(filled=True, fill="white", stroke="black", strokeWidth=1.1, size=4,
                                      opacity=1, fillOpacity=1, strokeOpacity=1).encode(
        x=X("lx"), y=Y("ly"), shape=alt.Shape("path:N", scale=None))
    texts = alt.Chart(lab).mark_text(font=FONT, fontSize=LFS, color="black", align="center",
                                     baseline="middle").encode(x=X("lx"), y=Y("ly"), text="name:N")
    return alt.layer(vmin, hmin, dots, lines, boxes, texts).properties(
        width=w, height=h,
        title=alt.TitleParams(title, color=tcolor, fontSize=26, font=FONT, fontWeight="normal",
                              anchor="middle", frame="group", offset=12))


TL = panel("FLAG-APEX2-Atg8 [growing conditions]", GREEN, TL_GREY, TL_RED, TL_DARK, TL_LABELS,
           [-10.33, 7.99], [-0.25, 5.38], TL_XMAJ, TL_XMIN, TL_YMAJ, TL_YMIN, 458, 455, "#7F7F7F", 15, 12, 8)
TR = panel("Atg9-FLAG-APEX2 [growing conditions]", BLUE, TR_GREY, TR_RED, TR_DARK, TR_LABELS,
           [-10.6, 8.42], [-0.34, 7.19], TR_XMAJ, TR_XMIN, TR_YMAJ, TR_YMIN, 460, 455, "#262626", 17, 10, 7)
BL = panel("FLAG-APEX2-Atg8 [1 h nitrogen starvation]", GREEN, BL_GREY, BL_RED, BL_DARK, BL_LABELS,
           [-5.16, 7.28], [-0.24, 5.14], BL_XMAJ, BL_XMIN, BL_YMAJ, BL_YMIN, 452, 449, "#7F7F7F", 15, 12, 8)
BR = panel("Atg9-FLAG-APEX2 [1 h nitrogen starvation]", BLUE, BR_GREY, BR_RED, BR_DARK, BR_LABELS,
           [-11.07, 9.16], [-0.31, 6.74], BR_XMAJ, BR_XMIN, BR_YMAJ, BR_YMIN, 457, 449, "#262626", 17, 10, 7)

chart = alt.concat(
    TL, TR, BL, BR, columns=2, spacing={"row": 136, "column": 143}, bounds="flush",
).configure_view(stroke="#4D4D4D", strokeWidth=1.4)

chart.save("out.html", embed_options={"renderer": "svg", "actions": False})
